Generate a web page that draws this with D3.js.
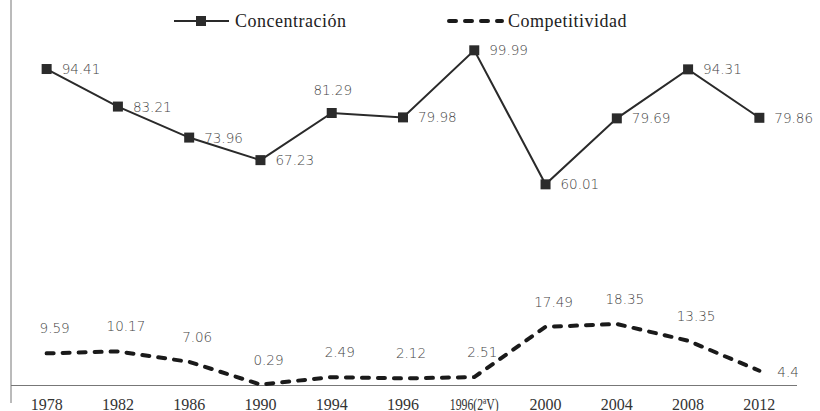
<!DOCTYPE html>
<html>
<head>
<meta charset="utf-8">
<script src="https://cdn.jsdelivr.net/npm/d3@7.9.0/dist/d3.min.js"></script>
<style>
  body { margin: 0; background: #fff; }
  svg { display: block; }
  .tick-label { font-family: "Liberation Serif", serif; font-size: 16px; fill: #333; }
  .data-label { font-family: "DejaVu Sans", sans-serif; font-size: 13.5px; font-weight: 300; fill: #444; }
  .legend-text { font-family: "Liberation Serif", serif; font-size: 18px; fill: #222; letter-spacing: 0.5px; }
</style>
</head>
<body>
<svg width="820" height="411"></svg>
<script>
const years = ['1978', '1982', '1986', '1990', '1994', '1996', '1996(2ªV)', '2000', '2004', '2008', '2012'];
const concentracion = [94.41, 83.21, 73.96, 67.23, 81.29, 79.98, 99.99, 60.01, 79.69, 94.31, 79.86];
const competitividad = [9.59, 10.17, 7.06, 0.29, 2.49, 2.12, 2.51, 17.49, 18.35, 13.35, 4.4];

const svg = d3.select('svg');
const left = 11, right = 795, baseY = 385.5;

const x = d3.scaleBand().domain(years).range([left, right]);
const y = d3.scaleLinear().domain([0, 115]).range([baseY, 0]);
const cx = d => x(d) + x.bandwidth() / 2;

// axes
svg.append('line')
  .attr('x1', left).attr('x2', left).attr('y1', 0).attr('y2', 403)
  .attr('stroke', '#777').attr('stroke-width', 1);
svg.append('line')
  .attr('x1', left).attr('x2', 797).attr('y1', baseY).attr('y2', baseY)
  .attr('stroke', '#777').attr('stroke-width', 1);

svg.selectAll('text.tick-label')
  .data(years)
  .join('text')
  .attr('class', 'tick-label')
  .attr('x', d => cx(d))
  .attr('y', 409.5)
  .attr('text-anchor', 'middle')
  .each(function (d) {
    if (d.includes('(')) {
      d3.select(this).attr('textLength', 49).attr('lengthAdjust', 'spacingAndGlyphs');
    }
  })
  .text(d => d);

const line = d3.line().x((d, i) => cx(years[i])).y(d => y(d));

// Competitividad
svg.append('path')
  .datum(competitividad)
  .attr('d', line)
  .attr('fill', 'none')
  .attr('stroke', '#1a1a1a')
  .attr('stroke-width', 4)
  .attr('stroke-linecap', 'round')
  .attr('stroke-dasharray', '7,9');

const last = years.length - 1;
svg.selectAll('text.comp-label')
  .data(competitividad)
  .join('text')
  .attr('class', 'data-label comp-label')
  .attr('x', (d, i) => i === last ? cx(years[i]) + 18 : cx(years[i]) + 8)
  .attr('y', (d, i) => i === last ? y(d) + 6 : y(d) - 20)
  .attr('text-anchor', (d, i) => i === last ? 'start' : 'middle')
  .text(d => d);

// Concentración
svg.append('path')
  .datum(concentracion)
  .attr('d', line)
  .attr('fill', 'none')
  .attr('stroke', '#2a2a2a')
  .attr('stroke-width', 2);

svg.selectAll('rect.marker')
  .data(concentracion)
  .join('rect')
  .attr('class', 'marker')
  .attr('x', (d, i) => cx(years[i]) - 5)
  .attr('y', d => y(d) - 5)
  .attr('width', 10).attr('height', 10)
  .attr('fill', '#2b2b2b');

svg.selectAll('text.conc-label')
  .data(concentracion)
  .join('text')
  .attr('class', 'data-label conc-label')
  .attr('x', (d, i) => i === 4 ? cx(years[i]) + 1 : cx(years[i]) + 15)
  .attr('y', (d, i) => i === 4 ? y(d) - 18 : y(d) + 5)
  .attr('text-anchor', (d, i) => i === 4 ? 'middle' : 'start')
  .text(d => d);

// legend
const lg = svg.append('g');
lg.append('line').attr('x1', 174).attr('x2', 229).attr('y1', 21).attr('y2', 21)
  .attr('stroke', '#2a2a2a').attr('stroke-width', 2);
lg.append('rect').attr('x', 196).attr('y', 16).attr('width', 10).attr('height', 10).attr('fill', '#2b2b2b');
lg.append('text').attr('class', 'legend-text').attr('x', 235).attr('y', 27).text('Concentración');
lg.append('line').attr('x1', 449).attr('x2', 502).attr('y1', 21).attr('y2', 21)
  .attr('stroke', '#1a1a1a').attr('stroke-width', 4)
  .attr('stroke-linecap', 'round').attr('stroke-dasharray', '7,9');
lg.append('text').attr('class', 'legend-text').attr('x', 508).attr('y', 27).text('Competitividad');
</script>
</body>
</html>
